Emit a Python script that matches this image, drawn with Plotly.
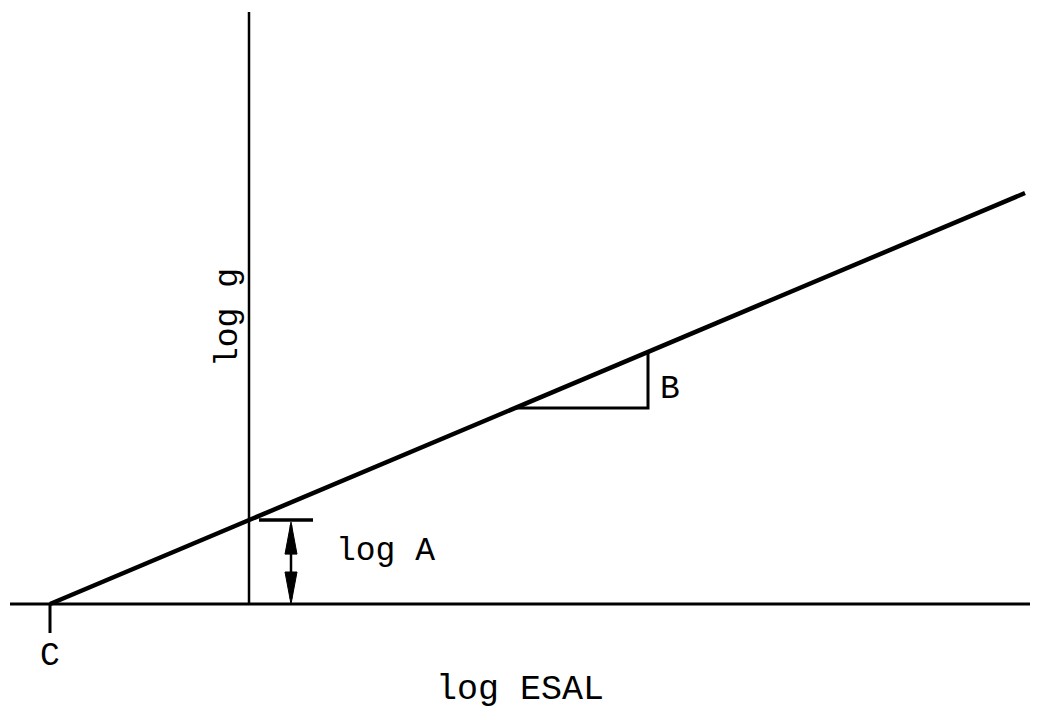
import plotly.graph_objects as go

# Schematic values (diagram units)
C = 0.0            # intercept on log ESAL axis
B = 0.4215         # slope
x_axis = 1.99      # position of log g axis on log ESAL scale
x_end = 9.75       # end of the line
tri_x = [4.65, 5.98]  # slope triangle horizontal extent
logA = B * (x_axis - C)
base_x = [-0.40, 9.90]
axis_top = 5.92
labels = {"x": "log ESAL", "y": "log g", "A": "log A", "B": "B", "C": "C"}

FONT = "Liberation Mono, Courier New, monospace"
fig = go.Figure()

def line(xs, ys, w):
    fig.add_trace(go.Scatter(x=xs, y=ys, mode="lines", line=dict(color="black", width=w),
                             showlegend=False, hoverinfo="skip"))

line(base_x, [0, 0], 3)
line([x_axis, x_axis], [0, axis_top], 2.5)
line([C, x_end], [0, B * (x_end - C)], 4.5)
line([C, C], [0, -0.29], 3)
y1 = B * (tri_x[0] - C)
y2 = B * (tri_x[1] - C)
line([tri_x[0], tri_x[1], tri_x[1]], [y1, y1, y2], 3)
line([x_axis + 0.10, x_axis + 0.64], [logA, logA], 3.5)
ax = x_axis + 0.42
line([ax, ax], [0.05, logA - 0.05], 2.5)
hl, hw = 0.32, 0.06
for tip, d in [(logA - 0.02, -1), (0.0, 1)]:
    fig.add_trace(go.Scatter(x=[ax, ax - hw, ax + hw, ax], y=[tip, tip + d * hl, tip + d * hl, tip],
                             mode="lines", fill="toself", fillcolor="black",
                             line=dict(color="black", width=1), showlegend=False, hoverinfo="skip"))

def txt(x, y, s, size=33, angle=0):
    fig.add_annotation(x=x, y=y, text=s, showarrow=False, textangle=angle,
                       font=dict(family=FONT, size=size, color="black"))

txt(x_axis + 1.36, logA - 0.31, labels["A"])
txt(tri_x[1] + 0.22, y1 + 0.19, labels["B"])
txt(C, -0.52, labels["C"])
txt(x_axis - 0.21, 2.86, labels["y"], angle=-90)
txt(4.70, -0.86, labels["x"], size=35)

# page body has an 8px margin: figure covers screen px 8..1038 x 8..712
fig.update_xaxes(range=[-0.42, 9.88], visible=False, fixedrange=True)
fig.update_yaxes(range=[-1.08, 5.96], visible=False, fixedrange=True)
fig.update_layout(width=1030, height=704, margin=dict(l=0, r=0, t=0, b=0),
                  paper_bgcolor="white", plot_bgcolor="white")
fig.write_html("out.html")
